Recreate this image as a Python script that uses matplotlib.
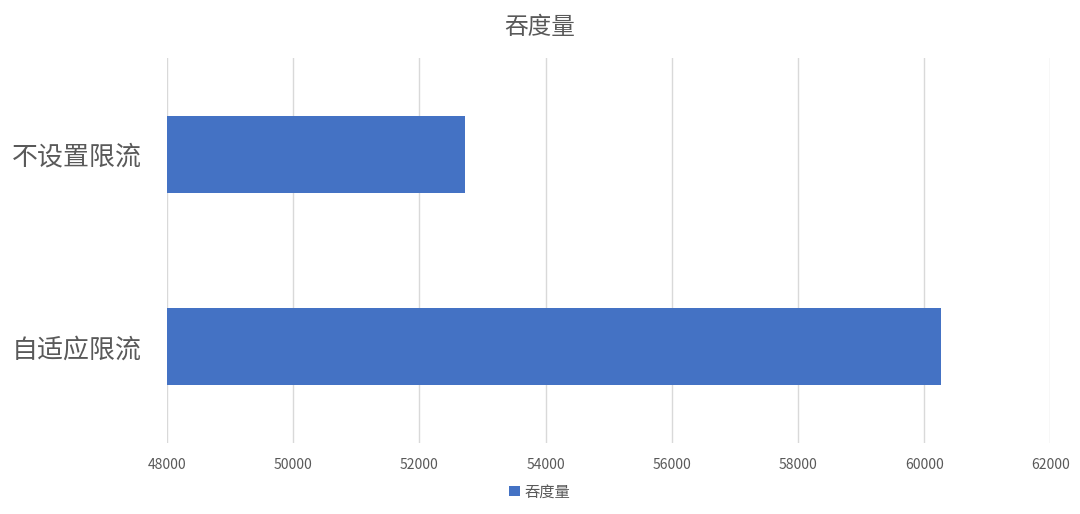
import matplotlib
matplotlib.use("Agg")
import matplotlib.pyplot as plt
import numpy as np

plt.rcParams['font.family'] = ['Noto Sans CJK SC', 'DejaVu Sans']

# data
categories = ['不设置限流', '自适应限流']
throughput = [52720, 60270]
series_name = '吞度量'
x_ticks = [48000, 50000, 52000, 54000, 56000, 58000, 60000, 62000]

text_color = '#595959'
bar_color = '#4472C4'
grid_color = '#D9D9D9'

fig = plt.figure(figsize=(10.8, 5.14), dpi=100)
ax = fig.add_axes([0.1546, 0.1381, 0.8180, 0.7491])

y = np.arange(len(categories))
ax.barh(y, np.array(throughput) - x_ticks[0], left=x_ticks[0], height=0.4,
        color=bar_color, label=series_name, zorder=3)

ax.set_xlim(x_ticks[0], x_ticks[-1])
ax.set_ylim(len(categories) - 0.5, -0.5)
ax.set_xticks(x_ticks)
ax.set_xticklabels([str(t) for t in x_ticks], fontsize=10, color=text_color)
ax.set_yticks(y)
ax.set_yticklabels(categories, fontsize=18.7, color=text_color)
ax.tick_params(axis='both', length=0)
ax.tick_params(axis='x', pad=11)
ax.tick_params(axis='y', pad=18)

ax.grid(axis='x', color=grid_color, linewidth=1, zorder=0)
for spine in ax.spines.values():
    spine.set_visible(False)

fig.text(0.5, 0.947, series_name, ha='center', va='center', fontsize=17, color=text_color)

leg = fig.legend(loc='center', bbox_to_anchor=(0.5, 0.043), frameon=False,
                 fontsize=11, handlelength=0.7, handleheight=0.7, handletextpad=0.3)
for t in leg.get_texts():
    t.set_color(text_color)

fig.savefig('out.png', dpi=100)
